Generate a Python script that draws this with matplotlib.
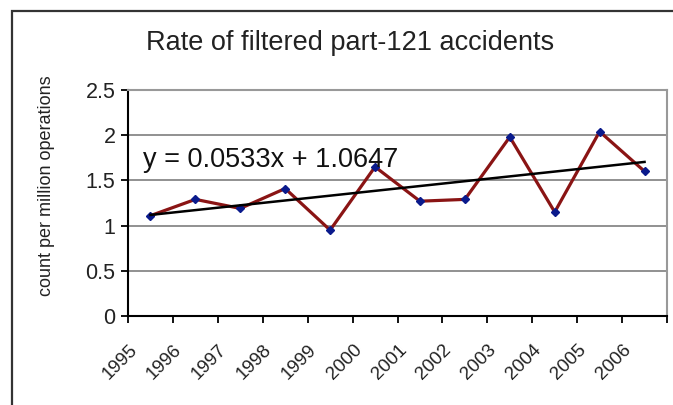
import matplotlib.pyplot as plt
import matplotlib.transforms as mtransforms
from matplotlib.patches import Rectangle
import numpy as np

years = ['1995', '1996', '1997', '1998', '1999', '2000',
         '2001', '2002', '2003', '2004', '2005', '2006']
rates = [1.11, 1.29, 1.19, 1.41, 0.95, 1.65,
         1.27, 1.29, 1.98, 1.15, 2.04, 1.60]
slope = 0.0533
intercept = 1.0647
yticks = [0, 0.5, 1, 1.5, 2, 2.5]
yticklabels = ['0', '0.5', '1', '1.5', '2', '2.5']

plt.rcParams['font.family'] = ['Liberation Sans', 'DejaVu Sans']

fig = plt.figure(figsize=(6.73, 4.05), dpi=100)
ax = fig.add_axes([128/673, 1-316/405, 539/673, 226/405])

# outer chart frame (cut off at right and bottom)
fig.patches.append(Rectangle((12/673, -0.1), 1.2, 1.1 - 11/405,
                             transform=fig.transFigure, fill=False,
                             edgecolor='#333333', linewidth=1.6))

pos = np.arange(len(years))
ax.plot(pos, rates, color='#8a1414', linewidth=2.3, zorder=3,
        marker='D', markersize=4.5, markerfacecolor='#0a1a8c',
        markeredgecolor='#0a1a8c')

xt = pos + 1
trend = slope * xt + intercept
ax.plot(pos, trend, color='black', linewidth=1.8, zorder=4)

ax.text(15/539, (316-167)/226, 'y = 0.0533x + 1.0647', transform=ax.transAxes,
        fontsize=19.5, va='baseline', ha='left', color='#111111', zorder=5)

ax.set_xlim(-0.5, len(years) - 0.5)
ax.set_ylim(0, 2.5)
ax.set_yticks(yticks)
ax.set_yticklabels(yticklabels, fontsize=15.5, color='#222222')
ax.yaxis.grid(True, color='#888888', linewidth=1.3)
ax.set_axisbelow(True)

ax.set_xticks(pos)
ax.set_xticklabels(years, rotation=45, ha='right', va='top',
                   fontsize=13.5, color='#222222')
ax.set_xticks(np.arange(-0.5, len(years)), minor=True)
ax.tick_params(axis='x', which='major', length=0, pad=18)
ax.tick_params(axis='x', which='minor', length=5, width=1.3, direction='out')
ax.tick_params(axis='y', length=5, width=1.3, direction='out', pad=4)
offset = mtransforms.ScaledTranslation(-10/100, 0, fig.dpi_scale_trans)
for lab in ax.get_xticklabels():
    lab.set_transform(lab.get_transform() + offset)

ax.spines['left'].set_color('black')
ax.spines['bottom'].set_color('black')
ax.spines['left'].set_linewidth(1.5)
ax.spines['bottom'].set_linewidth(1.5)
ax.spines['top'].set_color('#999999')
ax.spines['right'].set_color('#999999')
ax.spines['top'].set_linewidth(1.5)
ax.spines['right'].set_linewidth(1.5)

fig.text(350/673, 1-50/405, 'Rate of filtered part-121 accidents',
         fontsize=19.5, ha='center', va='baseline', color='#222222')
fig.text(47/673, 1-186/405, 'count per million operations', rotation=90,
         fontsize=13, ha='center', va='center', color='#222222')

fig.savefig('out.png', dpi=100)
